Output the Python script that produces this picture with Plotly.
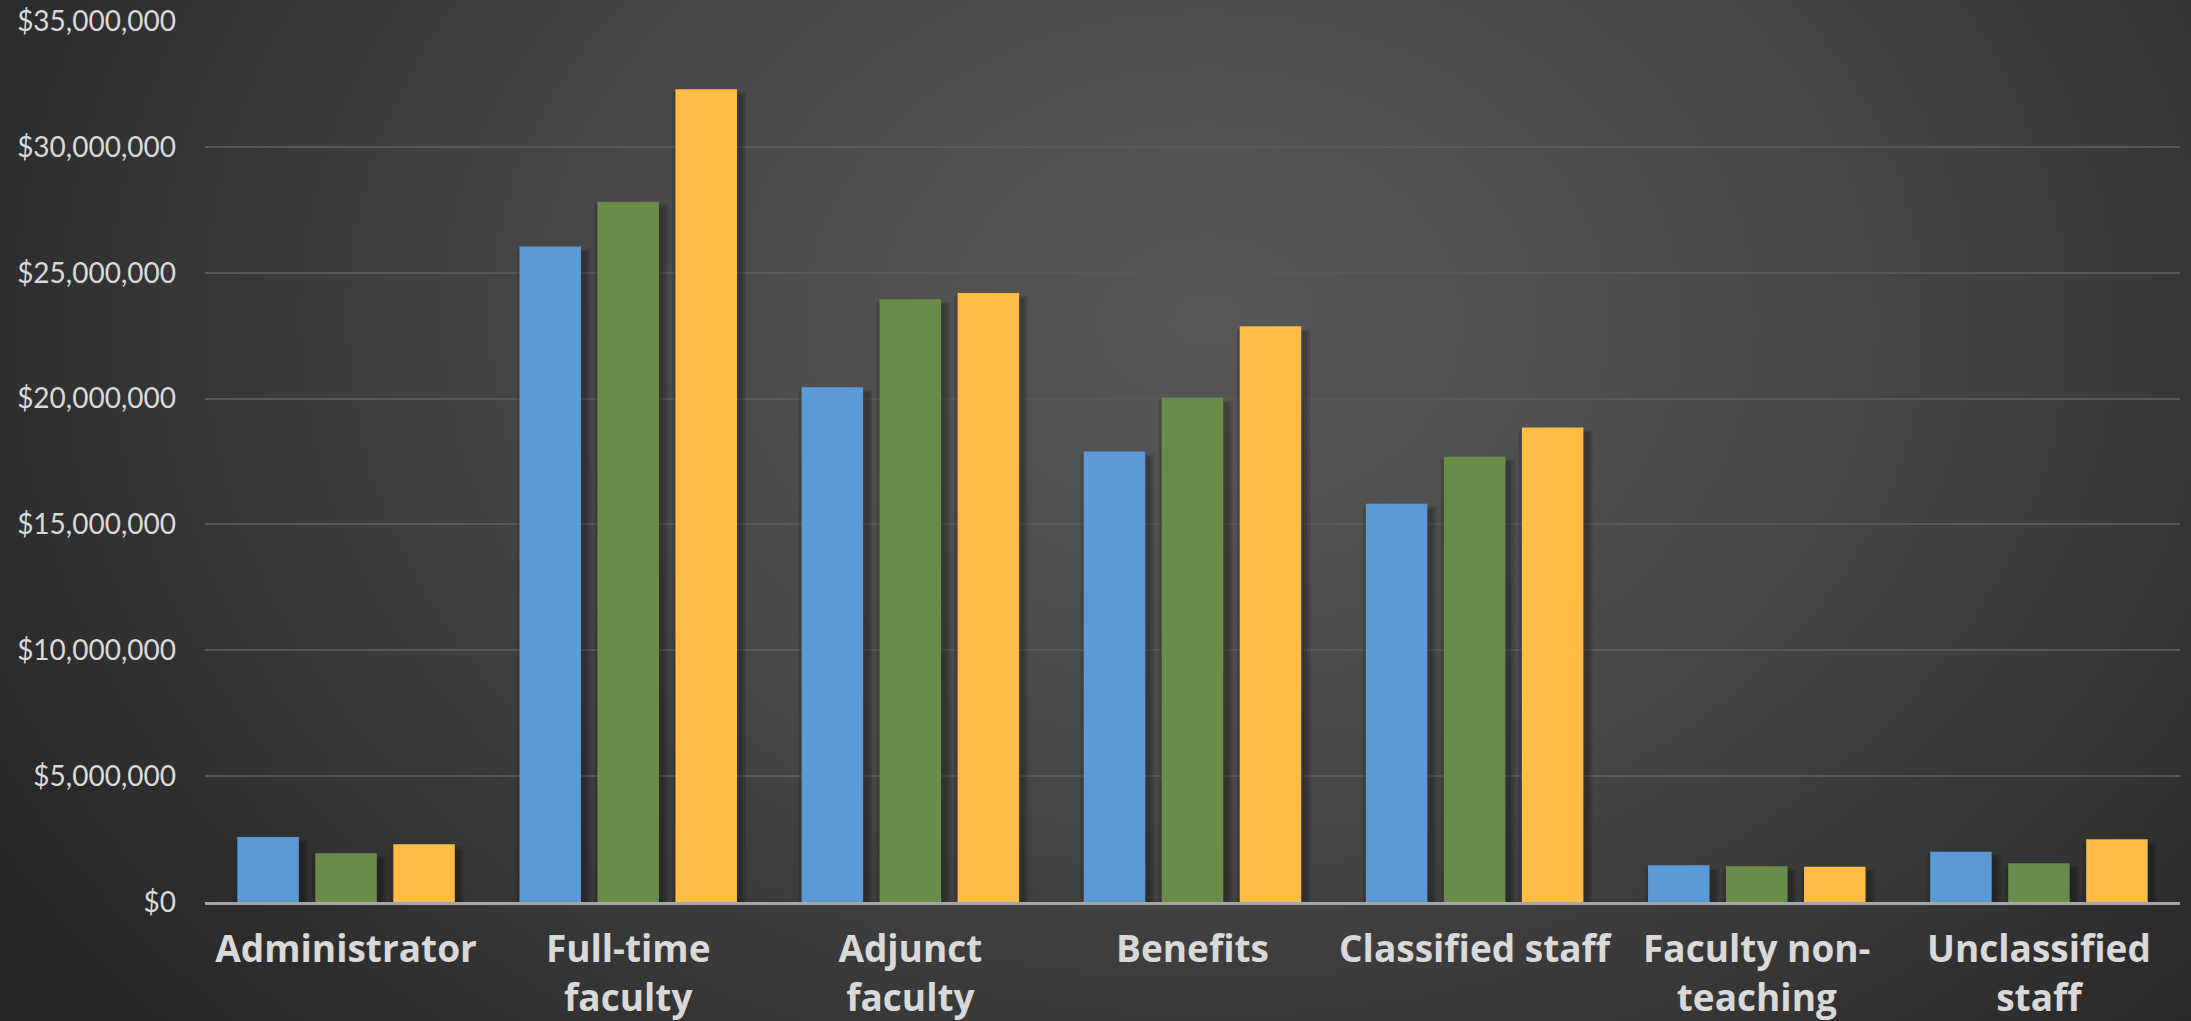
import base64
import plotly.graph_objects as go

categories = ["Administrator", "Full-time<br>faculty", "Adjunct<br>faculty", "Benefits",
              "Classified staff", "Faculty non-<br>teaching", "Unclassified<br>staff"]
series_names = ["Series 1", "Series 2", "Series 3"]
series1 = [2580000, 26040000, 20450000, 17900000, 15820000, 1460000, 2000000]
series2 = [1940000, 27820000, 23950000, 20040000, 17690000, 1420000, 1540000]
series3 = [2290000, 32290000, 24190000, 22870000, 18850000, 1400000, 2490000]
colors = ["#5B9BD5", "#6A8C4A", "#FFBD45"]
tick_vals = [0, 5000000, 10000000, 15000000, 20000000, 25000000, 30000000, 35000000]
tick_text = ["$0", "$5,000,000", "$10,000,000", "$15,000,000", "$20,000,000",
             "$25,000,000", "$30,000,000", "$35,000,000"]

W, H = 2191, 1021
ml, mr, mt, mb = 205, 11, 21, 119
pw, ph = W - ml - mr, H - mt - mb
pad = 20
ymax = 35000000
cat_px = pw / len(categories)          # pixels per category
val_per_px = ymax / ph                 # data units per pixel
bar_w = 61.5 / cat_px
pitch = 78.0 / cat_px

svg = f'''<svg xmlns="http://www.w3.org/2000/svg" width="{W}" height="{H}" viewBox="0 0 {W} {H}" preserveAspectRatio="none">
<defs><radialGradient id="g" cx="{0.55*W}" cy="{0.32*H}" r="{0.62*W}" gradientUnits="userSpaceOnUse" gradientTransform="translate({0.55*W} {0.32*H}) scale(1 0.75) translate({-0.55*W} {-0.32*H})">
<stop offset="0" stop-color="#585858"/><stop offset="0.45" stop-color="#474747"/><stop offset="1" stop-color="#272727"/></radialGradient></defs>
<rect width="{W}" height="{H}" fill="url(#g)"/></svg>'''
src = "data:image/svg+xml;base64," + base64.b64encode(svg.encode()).decode()

fig = go.Figure()
all_series = [series1, series2, series3]
# soft drop shadows (drawn first, underneath)
for k, vals in enumerate(all_series):
    off = (k - 1) * pitch - bar_w / 2
    for dx0, dx1, dy, a in [(-3, 9, 3, 0.13), (1, 6, 5, 0.16)]:
        fig.add_trace(go.Bar(
            x=categories, y=vals, base=-dy * val_per_px,
            offset=off + dx0 / cat_px, width=bar_w + (dx1 - dx0) / cat_px,
            marker=dict(color=f"rgba(0,0,0,{a})", line=dict(width=0)),
            hoverinfo="skip", showlegend=False))
for k, (name, vals, c) in enumerate(zip(series_names, all_series, colors)):
    fig.add_trace(go.Bar(x=categories, y=vals, name=name,
                         offset=(k - 1) * pitch - bar_w / 2, width=bar_w,
                         marker=dict(color=c, line=dict(width=0))))

fig.update_layout(
    width=W, height=H,
    margin=dict(l=ml, r=mr, t=mt, b=mb),
    barmode="overlay",
    paper_bgcolor="#2b2b2b", plot_bgcolor="rgba(0,0,0,0)",
    showlegend=False,
    font=dict(family="Lato", color="#D9D9D9"),
    images=[dict(source=src, xref="paper", yref="paper", x=-(ml+pad)/pw, y=1+(mt+pad)/ph,
                 sizex=(W+2*pad)/pw, sizey=(H+2*pad)/ph, sizing="stretch", layer="below",
                 xanchor="left", yanchor="top")],
)
fig.update_yaxes(range=[0, ymax], tickvals=tick_vals, ticktext=tick_text,
                 showgrid=True, gridcolor="#585858", gridwidth=2, zeroline=False,
                 tickfont=dict(size=28, color="#D9D9D9"), ticklabelstandoff=28,
                 showline=False, automargin=False)
fig.update_xaxes(showline=True, linecolor="#A6A6A6", linewidth=3,
                 range=[-0.5, len(categories) - 0.5],
                 tickfont=dict(size=37, color="#D9D9D9", family="Open Sans", weight="bold"),
                 ticks="", ticklabelstandoff=13, automargin=False)
fig.write_html("out.html")
